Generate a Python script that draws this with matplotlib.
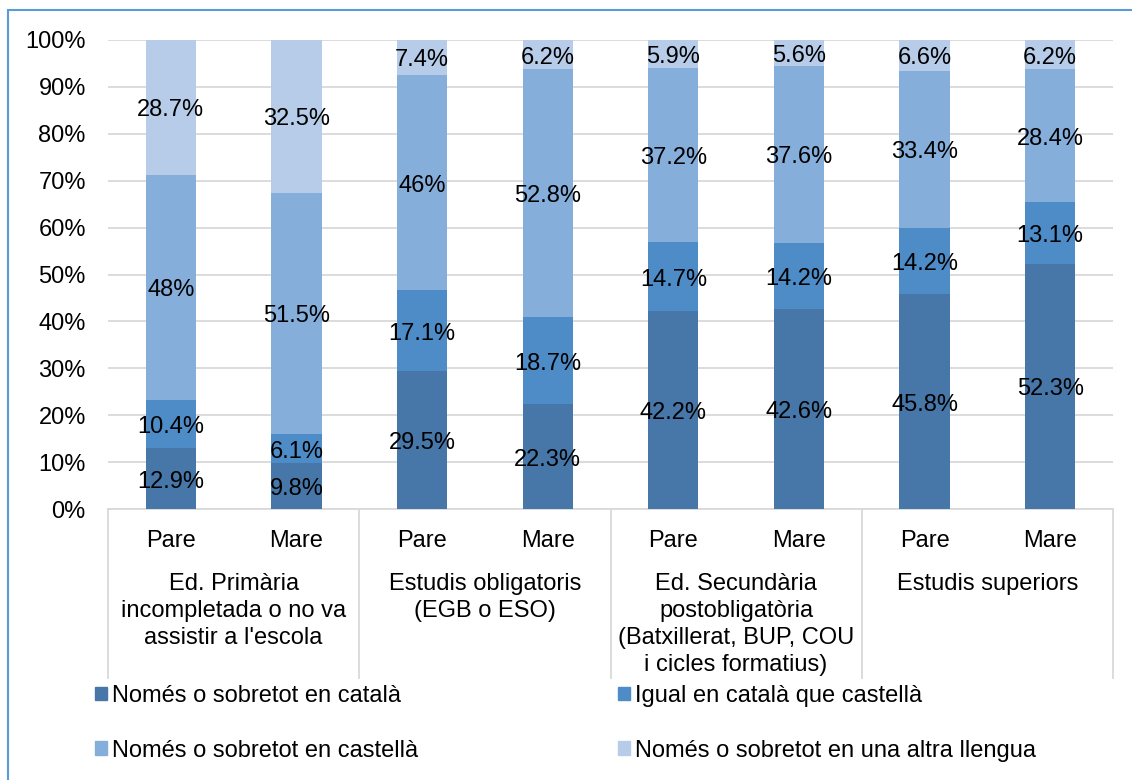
import matplotlib
matplotlib.use("Agg")
import matplotlib.pyplot as plt
from matplotlib.patches import Rectangle
from matplotlib.transforms import blended_transform_factory
import numpy as np

plt.rcParams['font.family'] = ['Liberation Sans', 'DejaVu Sans']

bar_labels = ["Pare", "Mare", "Pare", "Mare", "Pare", "Mare", "Pare", "Mare"]
groups = [
    "Ed. Primària\nincompletada o no va\nassistir a l'escola",
    "Estudis obligatoris\n(EGB o ESO)",
    "Ed. Secundària\npostobligatòria\n(Batxillerat, BUP, COU\ni cicles formatius)",
    "Estudis superiors",
]
series_names = [
    "Només o sobretot en català",
    "Igual en català que castellà",
    "Només o sobretot en castellà",
    "Només o sobretot en una altra llengua",
]
catala = [12.9, 9.8, 29.5, 22.3, 42.2, 42.6, 45.8, 52.3]
igual = [10.4, 6.1, 17.1, 18.7, 14.7, 14.2, 14.2, 13.1]
castella = [48, 51.5, 46, 52.8, 37.2, 37.6, 33.4, 28.4]
altra = [28.7, 32.5, 7.4, 6.2, 5.9, 5.6, 6.6, 6.2]
label_text = {
    0: ["12.9%", "9.8%", "29.5%", "22.3%", "42.2%", "42.6%", "45.8%", "52.3%"],
    1: ["10.4%", "6.1%", "17.1%", "18.7%", "14.7%", "14.2%", "14.2%", "13.1%"],
    2: ["48%", "51.5%", "46%", "52.8%", "37.2%", "37.6%", "33.4%", "28.4%"],
    3: ["28.7%", "32.5%", "7.4%", "6.2%", "5.9%", "5.6%", "6.6%", "6.2%"],
}
colors = ["#4677A8", "#4E8CC8", "#86AEDB", "#B7CCE8"]

W, H = 1132, 780
fig = plt.figure(figsize=(W / 100, H / 100), dpi=100)
ax = fig.add_axes([108 / W, 1 - 509 / H, (1113 - 108) / W, (509 - 40) / H])

data = np.array([catala, igual, castella, altra], dtype=float)
totals = data.sum(axis=0)
pct = data / totals * 100
x = np.arange(len(bar_labels))
bottom = np.zeros(len(x))
FS = 17
for i in range(4):
    ax.bar(x, pct[i], 0.4, bottom=bottom, color=colors[i], zorder=3)
    for j in range(len(x)):
        ax.annotate(label_text[i][j], (x[j], bottom[j] + pct[i][j] / 2),
                    xytext=(0, -3), textcoords='offset pixels',
                    ha='center', va='center', fontsize=FS, color='black', zorder=4)
    bottom += pct[i]

ax.set_xlim(-0.5, len(x) - 0.5)
ax.set_ylim(0, 100)
ax.set_yticks(np.arange(0, 101, 10))
ax.set_yticklabels([f"{v}%" for v in range(0, 101, 10)], fontsize=FS)
ax.yaxis.grid(True, color='#D9D9D9', linewidth=1.3, zorder=0)
ax.set_axisbelow(True)
for s in ['top', 'right', 'left']:
    ax.spines[s].set_visible(False)
ax.spines['bottom'].set_color('#D9D9D9')
ax.spines['bottom'].set_linewidth(1.3)
ax.tick_params(axis='y', length=0, pad=16)
ax.tick_params(axis='x', length=0, pad=15)
ax.set_xticks(x)
ax.set_xticklabels(bar_labels, fontsize=FS)

trans = blended_transform_factory(ax.transData, ax.transAxes)
ax_h = 509 - 40
sep_bottom = -(678 - 509) / ax_h
for xs in [-0.5, 1.5, 3.5, 5.5, 7.5]:
    ax.plot([xs, xs], [0, sep_bottom], transform=trans, color='#D9D9D9', lw=1.3, clip_on=False)
grp_top = -(573 - 509) / ax_h
for g, name in enumerate(groups):
    ax.text(2 * g + 0.5, grp_top, name, transform=trans, ha='center', va='top',
            fontsize=FS, linespacing=1.3)

# legend
handles = [Rectangle((0, 0), 1, 1, color=c) for c in colors]
common = dict(loc='upper left', frameon=False, fontsize=FS, handlelength=0.5, handleheight=0.5,
              handletextpad=0.2, labelspacing=1.38, borderpad=0, borderaxespad=0)
fig.legend([handles[0], handles[2]], [series_names[0], series_names[2]],
           bbox_to_anchor=(95 / W, 1 - 685 / H), **common)
fig.legend([handles[1], handles[3]], [series_names[1], series_names[3]],
           bbox_to_anchor=(618 / W, 1 - 685 / H), **common)

# outer border
fig.patches.append(Rectangle((8 / W, -0.1), 1.2, 1 - 10 / H + 0.1, transform=fig.transFigure,
                             fill=False, edgecolor='#5B9BD5', linewidth=1.5))

fig.savefig("out.png", dpi=100)
